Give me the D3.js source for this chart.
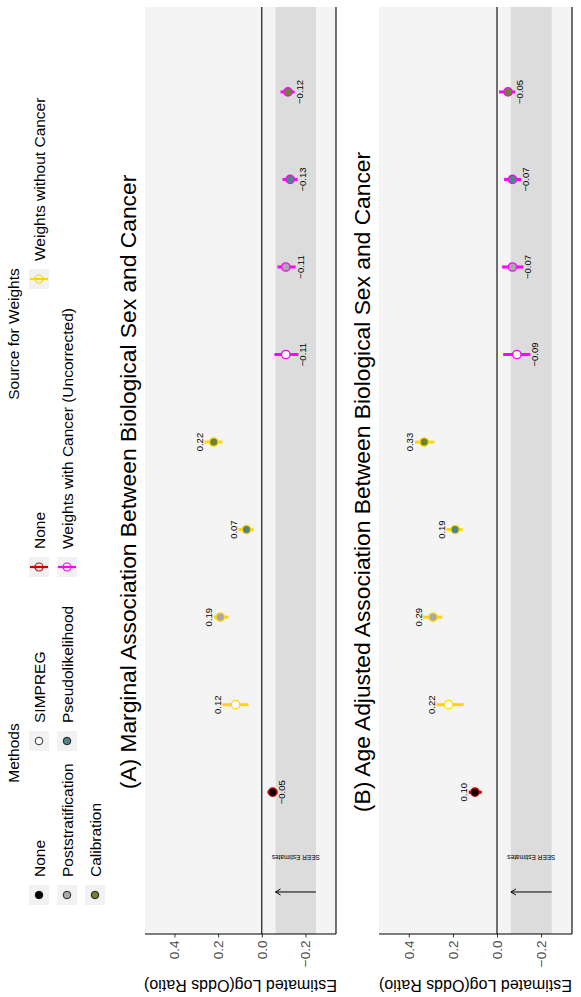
<!DOCTYPE html>
<html>
<head>
<meta charset="utf-8">
<script src="https://cdn.jsdelivr.net/npm/d3@7"></script>
<style>
  body { margin: 0; background: #fff; }
  svg { display: block; font-family: "Liberation Sans", Arial, sans-serif; }
</style>
</head>
<body>
<div id="chart"></div>
<script>
// Categories: one estimate per position along the x axis
const positions = [1, 2, 3, 4, 5, 6, 7, 8, 9];
const methods = ["None", "SIMPREG", "Poststratification", "Pseudolikelihood", "Calibration",
                 "SIMPREG", "Poststratification", "Pseudolikelihood", "Calibration"];
const sources = ["None",
                 "Weights without Cancer", "Weights without Cancer", "Weights without Cancer", "Weights without Cancer",
                 "Weights with Cancer (Uncorrected)", "Weights with Cancer (Uncorrected)",
                 "Weights with Cancer (Uncorrected)", "Weights with Cancer (Uncorrected)"];

// (A) Marginal association: estimate and interval
const estA  = [-0.05, 0.12, 0.19, 0.07, 0.22, -0.11, -0.11, -0.13, -0.12];
const lowA  = [-0.072, 0.061, 0.153, 0.038, 0.180, -0.168, -0.155, -0.164, -0.150];
const highA = [-0.026, 0.180, 0.220, 0.107, 0.263, -0.058, -0.072, -0.095, -0.086];

// (B) Age adjusted association
const estB  = [0.10, 0.22, 0.29, 0.19, 0.33, -0.09, -0.07, -0.07, -0.05];
const lowB  = [0.069, 0.151, 0.248, 0.156, 0.284, -0.151, -0.119, -0.110, -0.083];
const highB = [0.128, 0.275, 0.335, 0.229, 0.372, -0.028, -0.023, -0.032, -0.009];

// SEER reference range and where its arrow / label sit
const seerRange = [-0.248, -0.063];
const seerArrowX = -0.14;
const seerLabelX = 0.25;

const yTicks = [-0.2, 0.0, 0.2, 0.4];

const methodLevels = ["None", "Poststratification", "Calibration", "SIMPREG", "Pseudolikelihood"];
const methodFills  = ["#000000", "#A9A9A9", "#6B8234", "#FFFFFF", "#4F8587"];
const sourceLevels = ["None", "Weights with Cancer (Uncorrected)", "Weights without Cancer"];
const sourceColors = ["#CD0000", "#FF00FF", "#FFD700"];

const panelTitles = ["(A) Marginal Association Between Biological Sex and Cancer",
                     "(B) Age Adjusted Association Between Biological Sex and Cancer"];

// Landscape drawing size (the whole figure is turned a quarter turn)
const W = 997, H = 581;

const fill = d3.scaleOrdinal().domain(methodLevels).range(methodFills);
const color = d3.scaleOrdinal().domain(sourceLevels).range(sourceColors);

const svg = d3.select("#chart")
  .append("svg")
  .attr("width", H)
  .attr("height", W);

const root = svg.append("g")
  .attr("transform", `translate(0,${W}) rotate(-90)`);

// x scale is shared by both panels
const left = 63, right = 990;
const x = d3.scaleLinear().domain([-0.62, 9.97]).range([left, right]);

const fmtLab = d3.format(".2f");
const fmtTick = d3.format(".1f");

function drawPanel(top, bottom, title, est, low, high) {
  const y = d3.scaleLinear().domain([-0.34, 0.535]).range([bottom, top]);
  const g = root.append("g");

  // Panel background
  g.append("rect")
    .attr("x", left).attr("y", top)
    .attr("width", right - left).attr("height", bottom - top)
    .attr("fill", "#F4F4F4");

  // SEER band
  g.append("rect")
    .attr("x", left).attr("y", y(seerRange[1]))
    .attr("width", right - left)
    .attr("height", y(seerRange[0]) - y(seerRange[1]))
    .attr("fill", "#DCDCDC");

  // Zero line
  g.append("line")
    .attr("x1", left).attr("x2", right)
    .attr("y1", y(0)).attr("y2", y(0))
    .attr("stroke", "#000").attr("stroke-width", 1.1);

  // Arrow pointing up the SEER range
  const ax = x(seerArrowX);
  g.append("line")
    .attr("x1", ax).attr("x2", ax)
    .attr("y1", y(seerRange[0])).attr("y2", y(seerRange[1]))
    .attr("stroke", "#000").attr("stroke-width", 1);
  g.append("path")
    .attr("d", `M${ax - 3},${y(seerRange[1]) + 5}L${ax},${y(seerRange[1])}L${ax + 3},${y(seerRange[1]) + 5}`)
    .attr("fill", "none").attr("stroke", "#000").attr("stroke-width", 1);

  g.append("text")
    .attr("transform", `translate(${x(seerLabelX) + 3},${y((seerRange[0] + seerRange[1]) / 2)}) rotate(-90)`)
    .attr("text-anchor", "middle")
    .attr("font-size", 6.5)
    .text("SEER Estimates");

  // Error bars and points
  positions.forEach((p, i) => {
    g.append("line")
      .attr("x1", x(p)).attr("x2", x(p))
      .attr("y1", y(low[i])).attr("y2", y(high[i]))
      .attr("stroke", color(sources[i]))
      .attr("stroke-width", 3);
    g.append("circle")
      .attr("cx", x(p)).attr("cy", y(est[i]))
      .attr("r", 4.2)
      .attr("fill", fill(methods[i]))
      .attr("stroke", color(sources[i]))
      .attr("stroke-width", 1.3);
    // value label beyond the end of the interval
    g.append("text")
      .attr("x", x(p))
      .attr("y", est[i] >= 0 ? y(high[i]) - 1.5 : y(low[i]) + 8)
      .attr("text-anchor", "middle")
      .attr("font-size", 9.5)
      .text(fmtLab(est[i]));
  });

  // Axes
  const axis = g.append("g")
    .attr("transform", `translate(${left},0)`)
    .call(d3.axisLeft(y).tickValues(yTicks).tickFormat(fmtTick).tickSize(3.5).tickPadding(3));
  axis.select(".domain").remove();
  axis.selectAll(".tick line").attr("stroke", "#333");
  axis.selectAll(".tick text")
    .attr("fill", "#4D4D4D")
    .attr("font-size", 13.5)
    .attr("font-family", "Liberation Sans, Arial, sans-serif");

  g.append("line")
    .attr("x1", left).attr("x2", left)
    .attr("y1", top).attr("y2", bottom)
    .attr("stroke", "#000").attr("stroke-width", 1.1);
  g.append("line")
    .attr("x1", left).attr("x2", right)
    .attr("y1", bottom).attr("y2", bottom)
    .attr("stroke", "#000").attr("stroke-width", 1.1);

  // y-axis title
  g.append("text")
    .attr("transform", `translate(17,${(top + bottom) / 2}) rotate(-90)`)
    .attr("text-anchor", "middle")
    .attr("font-size", 16)
    .text("Estimated Log(Odds Ratio)");

  // Panel title
  g.append("text")
    .attr("x", 515)
    .attr("y", top - 9)
    .attr("text-anchor", "middle")
    .attr("font-size", 22.8)
    .text(title);
}

drawPanel(145, 336, panelTitles[0], estA, lowA, highA);
drawPanel(379, 572, panelTitles[1], estB, lowB, highB);

// Legends at the top
const rowY = [39, 67, 95];
const legend = root.append("g");

// Methods legend: fill only
const methodCols = [[0, 1, 2], [3, 4]];
const methodColX = [92, 246];
legend.append("text")
  .attr("x", 244).attr("y", 19)
  .attr("text-anchor", "middle")
  .attr("font-size", 15.5)
  .text("Methods");
methodCols.forEach((col, c) => {
  col.forEach((k, r) => {
    const row = legend.append("g").attr("transform", `translate(${methodColX[c]},${rowY[r] - 10})`);
    row.append("rect").attr("width", 20).attr("height", 20).attr("fill", "#F2F2F2");
    row.append("circle").attr("cx", 10).attr("cy", 10).attr("r", 3.8)
      .attr("fill", fill(methodLevels[k])).attr("stroke", "#000").attr("stroke-width", 0.8);
    row.append("text").attr("x", 28).attr("y", 10)
      .attr("dy", "0.36em")
      .attr("font-size", 15.5)
      .text(methodLevels[k]);
  });
});

// Source legend: colour only
const sourceCols = [[0, 1], [2]];
const sourceColX = [420, 708];
legend.append("text")
  .attr("x", 663).attr("y", 19)
  .attr("text-anchor", "middle")
  .attr("font-size", 15.5)
  .text("Source for Weights");
sourceCols.forEach((col, c) => {
  col.forEach((k, r) => {
    const row = legend.append("g").attr("transform", `translate(${sourceColX[c]},${rowY[r] - 10})`);
    row.append("rect").attr("width", 20).attr("height", 20).attr("fill", "#F2F2F2");
    row.append("line").attr("x1", 10).attr("x2", 10).attr("y1", 1).attr("y2", 19)
      .attr("stroke", color(sourceLevels[k])).attr("stroke-width", 2.2);
    row.append("circle").attr("cx", 10).attr("cy", 10).attr("r", 4)
      .attr("fill", "none").attr("stroke", color(sourceLevels[k])).attr("stroke-width", 1.2);
    row.append("text").attr("x", 28).attr("y", 10)
      .attr("dy", "0.36em")
      .attr("font-size", 15.5)
      .text(sourceLevels[k]);
  });
});
</script>
</body>
</html>
